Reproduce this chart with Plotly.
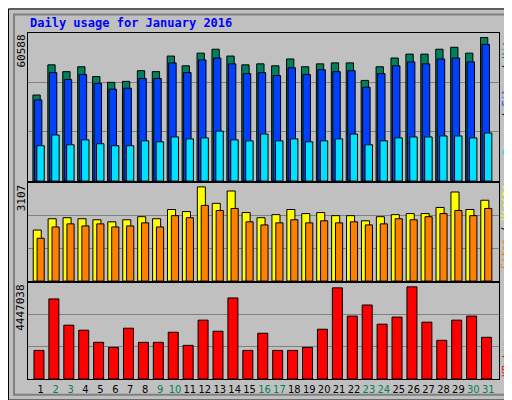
import plotly.graph_objects as go

days = list(range(1, 32))
weekend = [2, 3, 9, 10, 16, 17, 23, 24, 30, 31]

hits = [35211, 47567, 44777, 46770, 42784, 40392, 40791, 45176, 44777, 51155, 47169, 52351, 53945, 51155, 47567,
        47966, 47169, 49959, 46770, 47966, 48365, 48365, 41190, 46770, 50358, 51952, 51952, 53945, 54742, 52351, 58729]
files = [33218, 44379, 41588, 43581, 39994, 37602, 38001, 41987, 41987, 48365, 44379, 49561, 50358, 47966, 43980,
         44379, 43183, 46372, 43581, 45574, 44777, 45176, 38399, 43980, 47169, 48763, 47966, 49959, 50358, 48763, 55938]
pages = [14483, 18868, 14881, 16874, 15280, 14483, 14483, 16476, 16077, 18070, 17273, 17672, 20462, 16874, 16476,
         19266, 16476, 17273, 16077, 16476, 17273, 19266, 14881, 16476, 17672, 18070, 18070, 18469, 18469, 17672, 19665]
sites = [1614, 1971, 2004, 1971, 1939, 1874, 1939, 2036, 1971, 2263, 2198, 2978, 2458, 2848, 2166,
         2004, 2101, 2263, 2134, 2166, 2069, 2069, 1906, 2036, 2101, 2134, 2134, 2328, 2816, 2263, 2556]
visits = [1354, 1711, 1809, 1744, 1809, 1711, 1744, 1841, 1711, 2069, 2004, 2393, 2231, 2296, 1874,
          1776, 1841, 1939, 1841, 1906, 1841, 1874, 1776, 1809, 1971, 1939, 2036, 2134, 2231, 2069, 2296]
kbytes = [1321665, 3700662, 2487840, 2254605, 1694841, 1461606, 2347899, 1694841, 1694841, 2161311, 1554900,
          2721075, 2207958, 3747309, 1321665, 2114664, 1321665, 1321665, 1461606, 2301252, 4213779, 2907663,
          3420780, 2534487, 2861016, 4260426, 2627781, 1788135, 2721075, 2907663, 1928076]

max_hits = 60588
max_sites = 3107
max_kbytes = 4447038

BG = "#C0C0C0"
edge = dict(color="black", width=1)


def bar(y, color, offset, width, ax):
    return go.Bar(x=days, y=y, offset=offset, width=width, marker=dict(color=color, line=edge),
                  xaxis="x" if ax == "" else "x" + ax, yaxis="y" + ax, showlegend=False)


fig = go.Figure()
fig.add_trace(bar(hits, "#00805C", -0.52, 0.49, "3"))
fig.add_trace(bar(files, "#0040FF", -0.42, 0.5, "3"))
fig.add_trace(bar(pages, "#00E0FF", -0.26, 0.5, "3"))
fig.add_trace(bar(sites, "#FFFF00", -0.5, 0.54, "2"))
fig.add_trace(bar(visits, "#FF8000", -0.24, 0.48, "2"))
fig.add_trace(bar(kbytes, "#FF0000", -0.45, 0.67, ""))

xr = [0.15, 31.72]
xcommon = dict(range=xr, showgrid=False, zeroline=False, showline=True, linecolor="black", mirror=True)
ticktext = ["<span style='color:%s'>%d</span>" % ("#00805C" if d in weekend else "black", d) for d in days]


def yax(dom, mx):
    return dict(domain=dom, range=[0, mx], tickvals=[mx / 3, 2 * mx / 3], showticklabels=False,
                gridcolor="#808080", gridwidth=1, zeroline=False, showline=True, linecolor="black",
                mirror=True, ticks="")


fig.update_layout(
    width=512, height=400, paper_bgcolor=BG, plot_bgcolor=BG, barmode="overlay",
    margin=dict(l=20, r=21, t=25, b=22),
    font=dict(family="DejaVu Sans Mono", size=11, color="black"),
    xaxis=dict(**xcommon, anchor="y", tickvals=days, ticktext=ticktext, ticks="", tickangle=0,
               tickfont=dict(family="DejaVu Sans Condensed", size=11)),
    xaxis2=dict(**xcommon, anchor="y2", matches="x", showticklabels=False),
    xaxis3=dict(**xcommon, anchor="y3", matches="x", showticklabels=False),
    yaxis=yax([0, 0.278], max_kbytes),
    yaxis2=yax([0.283, 0.567], max_sites),
    yaxis3=yax([0.572, 1], max_hits),
)


def px_x(p):
    return (p - 20) / 471.0


def px_y(p):
    return (378 - p) / 353.0


side = dict(size=10)
ann = [
    dict(text="<b>Daily usage for January 2016</b>", x=px_x(20), y=px_y(15), font=dict(color="#0000FF", size=12),
         xanchor="left", yanchor="middle"),
    dict(text=str(max_hits), x=px_x(13), y=1, textangle=-90, xanchor="center", yanchor="top"),
    dict(text=str(max_sites), x=px_x(13), y=0.567, textangle=-90, xanchor="center", yanchor="top"),
    dict(text=str(max_kbytes), x=px_x(13), y=0.278, textangle=-90, xanchor="center", yanchor="top"),
    dict(text="<span style='color:#00E0FF'>Pages</span> / <span style='color:#0040FF'>Files</span> / "
              "<span style='color:#00805C'>Hits</span>",
         x=px_x(498), y=1, textangle=-90, xanchor="center", yanchor="top", font=side),
    dict(text="<span style='color:#FF8000'>Sites</span> / <span style='color:#FFFF00'>Visits</span>",
         x=px_x(498), y=0.567, textangle=-90, xanchor="center", yanchor="top", font=side),
    dict(text="<span style='color:#FF0000'>KBytes</span>",
         x=px_x(498), y=0.0, textangle=-90, xanchor="center", yanchor="bottom", font=side),
]
for a in ann:
    a.update(xref="paper", yref="paper", showarrow=False)
fig.update_layout(annotations=ann)

# outer frame with bevel
fig.add_shape(type="rect", xref="paper", yref="paper", x0=px_x(0.5), x1=px_x(511.5), y0=px_y(399.5), y1=px_y(0.5),
              line=dict(color="black", width=1), layer="below")
fig.add_shape(type="rect", xref="paper", yref="paper", x0=px_x(6), x1=px_x(506), y0=px_y(394), y1=px_y(6),
              line=dict(color="#808080", width=2), layer="below")

fig.write_html("out.html")
